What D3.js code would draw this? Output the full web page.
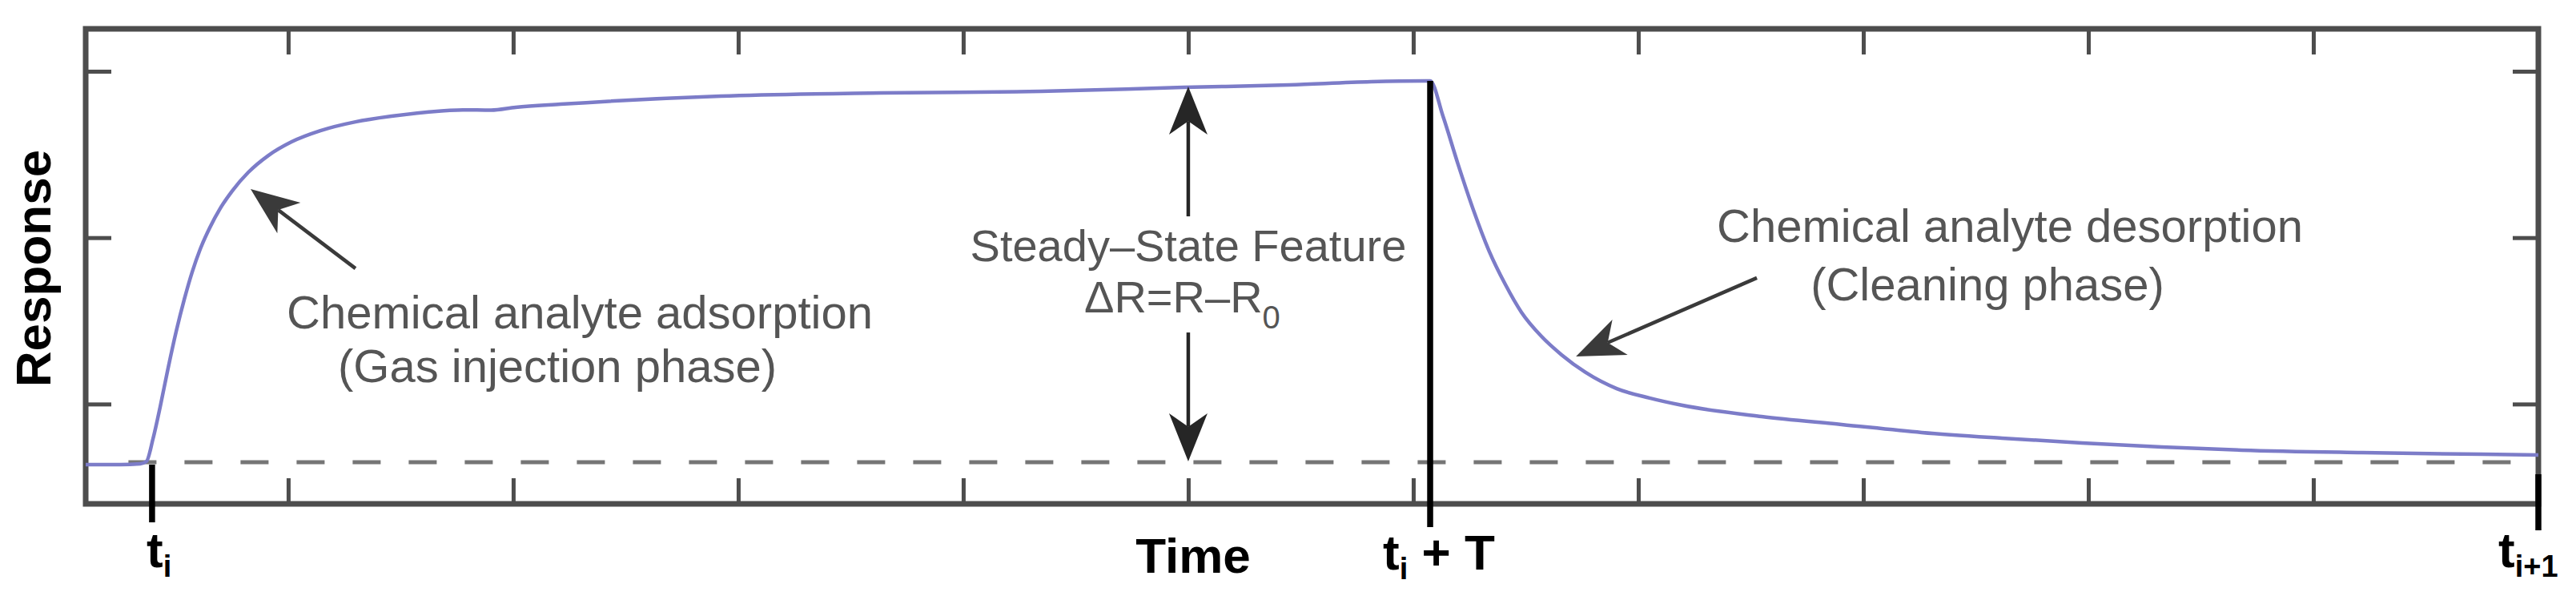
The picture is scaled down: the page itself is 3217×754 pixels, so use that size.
<!DOCTYPE html>
<html><head><meta charset="utf-8">
<script src="https://cdn.jsdelivr.net/npm/d3@7"></script>
<style>
html,body{margin:0;padding:0;background:#fff;}
svg{display:block;font-family:"Liberation Sans",Arial,Helvetica,sans-serif;}
</style>
</head><body>
<svg id="chart" width="3217" height="754"></svg>
<script>
// ---- data (time in arbitrary units, response in arbitrary units) ----
const timeValues = [1.0, 2.53, 3.42, 3.70, 3.99, 4.31, 4.66, 5.02, 5.38, 5.73, 6.09, 6.52,
  6.98, 7.52, 8.23, 9.12, 10.15, 11.43, 12.99, 14.59, 16.16, 17.76, 19.01, 20.11, 22.10, 29.22,
  36.34, 43.45, 49.79, 54.49, 58.12, 60.75, 61.32, 61.99, 62.67, 63.35, 64.09, 64.81, 65.70,
  66.59, 67.66, 69.04, 70.50, 71.92, 75.48, 79.04, 82.60, 86.16, 89.72, 93.27, 96.83, 102.17,
  107.51, 110.0];
const responseValues = [0.636, 0.636, 0.641, 0.655, 0.790, 0.983, 1.214, 1.435, 1.628, 1.792,
  1.931, 2.061, 2.176, 2.282, 2.393, 2.494, 2.576, 2.643, 2.696, 2.730, 2.754, 2.768, 2.766,
  2.783, 2.802, 2.851, 2.870, 2.879, 2.903, 2.918, 2.937, 2.942, 2.730, 2.441, 2.167, 1.926,
  1.719, 1.551, 1.406, 1.296, 1.190, 1.093, 1.036, 0.993, 0.925, 0.877, 0.829, 0.795, 0.766,
  0.742, 0.723, 0.708, 0.698, 0.694];
const xDomain = [1, 110];
const yDomain = [0.4, 3.255];
const xTickValues = [10, 20, 30, 40, 50, 60, 70, 80, 90, 100];
const yTickValues = [1, 2, 3];
const baselineR0 = 0.650;
const dashStartTime = 2.90;
// event markers: [time, top response, bottom response]
const markerTimes = [3.95, 60.75, 110];
const markerTops = [0.636, 2.942, 0.578];
const markerBottoms = [0.289, 0.260, 0.241];
// arrows: tail -> tip
const arrowTailT = [50, 50, 12.99, 75.27];
const arrowTailR = [2.128, 1.430, 1.815, 1.758];
const arrowTipT  = [50, 50, 8.33, 67.23];
const arrowTipR  = [2.908, 0.655, 2.292, 1.286];

// ---- layout ----
const svg = d3.select('#chart');
const x = d3.scaleLinear().domain(xDomain).range([107, 3170]);
const y = d3.scaleLinear().domain(yDomain).range([629, 36]);
const frameColor = '#4d4d4d';

function styleAxis(g){
  g.select('.domain').remove();
  g.selectAll('.tick line').attr('stroke', frameColor).attr('stroke-width', 5);
  g.selectAll('.tick text').remove();
}
svg.append('g').attr('transform', `translate(0,${y(yDomain[1])})`)
  .call(d3.axisBottom(x).tickValues(xTickValues).tickSize(32).tickSizeOuter(0)).call(styleAxis);
svg.append('g').attr('transform', `translate(0,${y(yDomain[0])})`)
  .call(d3.axisTop(x).tickValues(xTickValues).tickSize(32).tickSizeOuter(0)).call(styleAxis);
svg.append('g').attr('transform', `translate(${x(xDomain[0])},0)`)
  .call(d3.axisRight(y).tickValues(yTickValues).tickSize(32).tickSizeOuter(0)).call(styleAxis);
svg.append('g').attr('transform', `translate(${x(xDomain[1])},0)`)
  .call(d3.axisLeft(y).tickValues(yTickValues).tickSize(32).tickSizeOuter(0)).call(styleAxis);

// frame
svg.append('rect')
  .attr('x', x(xDomain[0])).attr('y', y(yDomain[1]))
  .attr('width', x(xDomain[1]) - x(xDomain[0]))
  .attr('height', y(yDomain[0]) - y(yDomain[1]))
  .attr('fill', 'none').attr('stroke', frameColor).attr('stroke-width', 7);

// dashed baseline R0
svg.append('line')
  .attr('x1', x(dashStartTime)).attr('x2', x(xDomain[1]))
  .attr('y1', y(baselineR0)).attr('y2', y(baselineR0))
  .attr('stroke', '#767676').attr('stroke-width', 5)
  .attr('stroke-dasharray', '35,35');

// response curve
const pts = timeValues.map((t, i) => [t, responseValues[i]]);
svg.append('path')
  .datum(pts)
  .attr('d', d3.line().x(d => x(d[0])).y(d => y(d[1])).curve(d3.curveMonotoneX))
  .attr('fill', 'none').attr('stroke', '#7c7cc8').attr('stroke-width', 4.5)
  .attr('stroke-linejoin', 'round');

// event markers
markerTimes.forEach((t, i) => {
  svg.append('line')
    .attr('x1', x(t)).attr('x2', x(t))
    .attr('y1', y(markerTops[i])).attr('y2', y(markerBottoms[i]))
    .attr('stroke', '#000').attr('stroke-width', 7.5);
});

// arrows
function arrow(x1, y1, x2, y2, color, w){
  const dx = x2 - x1, dy = y2 - y1, len = Math.hypot(dx, dy);
  const ux = dx / len, uy = dy / len, px = -uy, py = ux;
  const L = 60, W = 48, notch = 0.72;
  const bx = x2 - ux * L, by = y2 - uy * L;
  const nx = x2 - ux * L * notch, ny = y2 - uy * L * notch;
  svg.append('line').attr('x1', x1).attr('y1', y1).attr('x2', nx).attr('y2', ny)
    .attr('stroke', color).attr('stroke-width', w);
  svg.append('path')
    .attr('d', `M${x2},${y2}L${bx + px * W / 2},${by + py * W / 2}L${nx},${ny}L${bx - px * W / 2},${by - py * W / 2}Z`)
    .attr('fill', color);
}
arrowTailT.forEach((t, i) => {
  arrow(x(t), y(arrowTailR[i]), x(arrowTipT[i]), y(arrowTipR[i]), i < 2 ? '#262626' : '#3a3a3a', 4.5);
});

// annotation texts
const annColor = '#555';
function ann(s, cx, baseY, fs){
  return svg.append('text').attr('x', cx).attr('y', baseY)
    .attr('text-anchor', 'middle').attr('font-size', fs).attr('fill', annColor).text(s);
}
ann('Chemical analyte adsorption', 724, 410, 58);
ann('(Gas injection phase)', 696, 477, 58);
ann('Chemical analyte desorption', 2510, 302, 58);
ann('(Cleaning phase)', 2482, 375, 58);
ann('Steady–State Feature', x(50), 326, 56);
const dR = svg.append('text').attr('x', 1354).attr('y', 390)
  .attr('font-size', 56).attr('fill', annColor);
dR.append('tspan').text('ΔR=R–R');
dR.append('tspan').attr('font-size', 40).attr('dy', 20).text('0');

// axis labels
function boldText(xp, yp, anchor){
  return svg.append('text').attr('x', xp).attr('y', yp).attr('text-anchor', anchor)
    .attr('font-size', 62).attr('font-weight', 'bold').attr('fill', '#000');
}
const ti = boldText(183, 708, 'start');
ti.append('tspan').text('t');
ti.append('tspan').attr('font-size', 38).attr('dy', 12).text('i');

boldText(1490, 715, 'middle').text('Time');

const tiT = boldText(1727, 711, 'start');
tiT.append('tspan').text('t');
tiT.append('tspan').attr('font-size', 38).attr('dy', 12).text('i');
tiT.append('tspan').attr('dy', -12).text('\u00a0+ T');

const tn = boldText(3120, 708, 'start');
tn.append('tspan').text('t');
tn.append('tspan').attr('font-size', 38).attr('dy', 12).text('i+1');

svg.append('text').attr('transform', 'translate(63,335) rotate(-90)')
  .attr('text-anchor', 'middle').attr('font-size', 62).attr('font-weight', 'bold')
  .attr('fill', '#000').text('Response');
</script>
</body></html>
